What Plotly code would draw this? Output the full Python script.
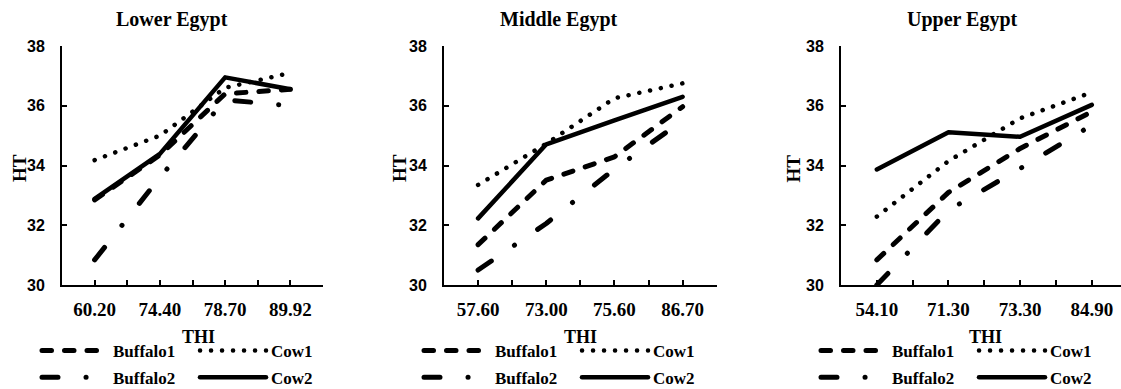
import plotly.graph_objects as go

W, H = 1121, 389

regions = ["Lower Egypt", "Middle Egypt", "Upper Egypt"]
thi_lower = ["60.20", "74.40", "78.70", "89.92"]
thi_middle = ["57.60", "73.00", "75.60", "86.70"]
thi_upper = ["54.10", "71.30", "73.30", "84.90"]

lower_buffalo1 = [32.85, 34.35, 36.40, 36.55]
lower_cow1 = [34.18, 35.00, 36.60, 37.10]
lower_buffalo2 = [30.84, 33.60, 36.20, 36.00]
lower_cow2 = [32.88, 34.39, 36.95, 36.55]

middle_buffalo1 = [31.35, 33.51, 34.29, 35.97]
middle_cow1 = [33.35, 34.73, 36.25, 36.75]
middle_buffalo2 = [30.50, 32.06, 33.88, 35.50]
middle_cow2 = [32.23, 34.71, 35.51, 36.30]

upper_buffalo1 = [30.84, 33.10, 34.57, 35.80]
upper_cow1 = [32.29, 34.15, 35.58, 36.45]
upper_buffalo2 = [30.00, 32.50, 33.90, 35.35]
upper_cow2 = [33.87, 35.11, 34.96, 36.03]

series_names = ["Buffalo1", "Cow1", "Buffalo2", "Cow2"]
panels = [
    (thi_lower, [lower_buffalo1, lower_cow1, lower_buffalo2, lower_cow2]),
    (thi_middle, [middle_buffalo1, middle_cow1, middle_buffalo2, middle_cow2]),
    (thi_upper, [upper_buffalo1, upper_cow1, upper_buffalo2, upper_cow2]),
]

# styles
dashes = {"Buffalo1": "9.5px,13px", "Cow1": "0.1px,10.9px",
          "Buffalo2": "16px,28px,0.1px,28px", "Cow2": "solid"}
widths = {"Buffalo1": 5, "Cow1": 4.5, "Buffalo2": 5, "Cow2": 4.5}

# layout geometry (pixels)
x_px = [(62, 323), (444, 716.7), (841, 1121)]
x_ranges = [[0, 8], [0, 8], [0, 280 / 35.83]]
y_top, y_bot = 46, 285
title_x = [171.7, 559, 962.5]
ht_x = [19, 399, 792.5]
thi_x = [198, 580.5, 985]
leg_x = [42, 200]

SERIF = "Liberation Serif, Times New Roman, serif"
SANS = "Liberation Sans, Arial, sans-serif"

fig = go.Figure()
annotations = []
layout = {}

for p, (cats, series) in enumerate(panels):
    ax = "" if p == 0 else str(p + 1)
    xs = [2 * i + 1 for i in range(len(cats))]
    for s, (name, vals) in enumerate(zip(series_names, series)):
        is_cow = name.startswith("Cow")
        leg_idx = 2 * p + (2 if is_cow else 1)
        legname = "legend" if leg_idx == 1 else f"legend{leg_idx}"
        fig.add_trace(go.Scatter(
            x=xs, y=vals, mode="lines", name=name,
            line=dict(color="black", width=widths[name], dash=dashes[name]),
            xaxis="x" + ax, yaxis="y" + ax, legend=legname,
            legendgroup=f"p{p}{name}", showlegend=True,
        ))
    tickvals = list(range(0, 2 * len(cats) + 1))
    ticktext = ["" if v % 2 == 0 else cats[(v - 1) // 2] for v in tickvals]
    x0, x1 = x_px[p]
    layout["xaxis" + ax] = dict(
        domain=[x0 / W, x1 / W], range=x_ranges[p], anchor="y" + ax,
        tickmode="array", tickvals=tickvals, ticktext=ticktext,
        ticks="inside", ticklen=5, tickwidth=1.5, tickcolor="black",
        showline=True, linecolor="black", linewidth=2, showgrid=False,
        zeroline=False, ticklabelstandoff=6,
        tickfont=dict(family=SERIF, size=19, color="black", weight="bold"),
    )
    layout["yaxis" + ax] = dict(
        domain=[(H - y_bot) / H, (H - y_top) / H], range=[30, 38], anchor="x" + ax,
        dtick=2, ticks="inside", ticklen=5, tickwidth=1.5, tickcolor="black",
        showline=True, linecolor="black", linewidth=2, showgrid=False,
        zeroline=False, ticklabelstandoff=12,
        tickfont=dict(family=SANS, size=16, color="black", weight="bold"),
    )
    annotations.append(dict(
        text="<b>" + regions[p] + "</b>", x=title_x[p] / W, y=(H - 20) / H,
        xref="paper", yref="paper", xanchor="center", yanchor="middle",
        showarrow=False, font=dict(family=SERIF, size=20, color="black")))
    annotations.append(dict(
        text="<b>HT</b>", x=ht_x[p] / W, y=(H - 168) / H, textangle=-90,
        xref="paper", yref="paper", xanchor="center", yanchor="middle",
        showarrow=False, font=dict(family=SERIF, size=19, color="black")))
    annotations.append(dict(
        text="<b>THI</b>", x=thi_x[p] / W, y=(H - 337) / H,
        xref="paper", yref="paper", xanchor="center", yanchor="middle",
        showarrow=False, font=dict(family=SERIF, size=18, color="black")))
    for c in range(2):
        leg_idx = 2 * p + c + 1
        legname = "legend" if leg_idx == 1 else f"legend{leg_idx}"
        layout[legname] = dict(
            x=(x0 - 62 + leg_x[c] - 5) / W, y=(H - 333) / H,
            xanchor="left", yanchor="top", orientation="v",
            itemwidth=66, tracegroupgap=1.5, bgcolor="rgba(0,0,0,0)",
            font=dict(family=SERIF, size=17, color="black", weight="bold"),
        )

fig.update_layout(
    width=W, height=H, autosize=False,
    margin=dict(l=0, r=0, t=0, b=0, autoexpand=False),
    paper_bgcolor="white", plot_bgcolor="white",
    annotations=annotations, showlegend=True,
    **layout,
)

post = ("document.body.style.margin='0';document.body.style.overflow='hidden';"
        "document.querySelectorAll('.js-line').forEach(function(p){"
        "p.style.strokeLinecap='round';p.style.strokeLinejoin='round';});")
fig.write_html("out.html", post_script=post, config={"displayModeBar": False})
